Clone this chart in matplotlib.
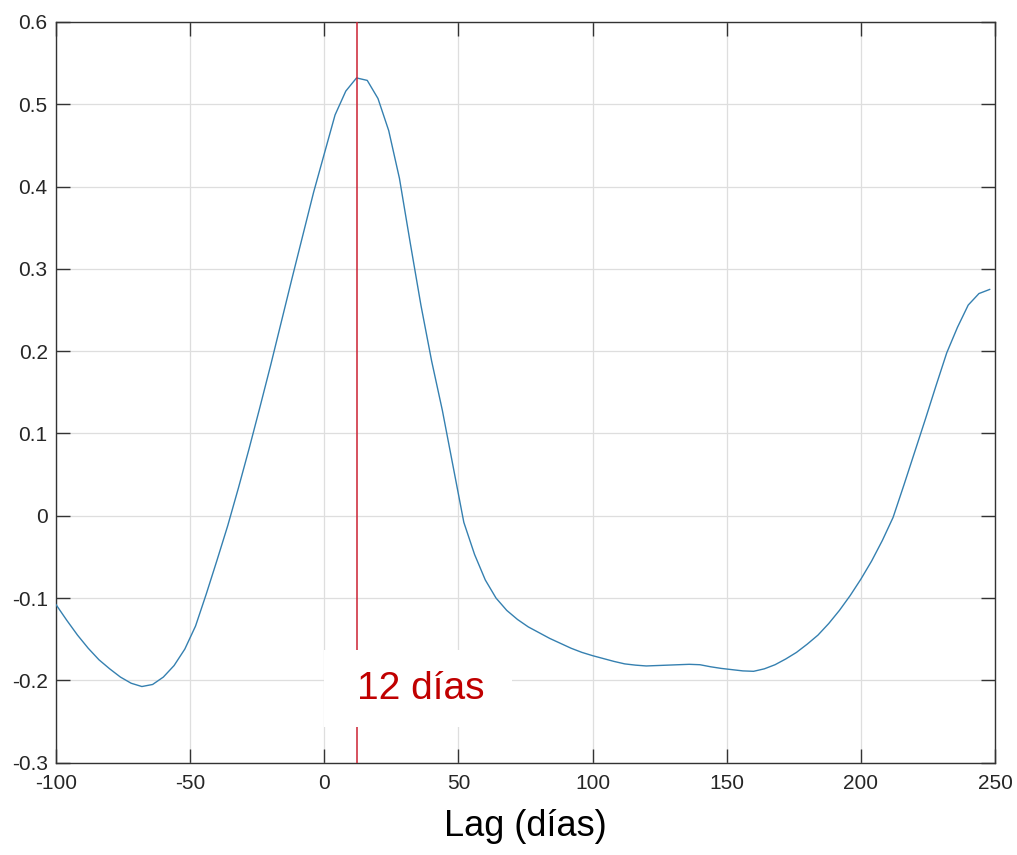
import numpy as np
import matplotlib
matplotlib.use("Agg")
import matplotlib.pyplot as plt
from matplotlib import font_manager
from matplotlib.patches import Rectangle

plt.rcParams['font.family'] = ['Liberation Sans', 'DejaVu Sans']
plt.rcParams['axes.unicode_minus'] = False

# cross-correlation vs lag (days), sampled every 4 days
lags = np.arange(-100, 252, 4)
corr = [
    -0.108, -0.127, -0.145, -0.161, -0.175, -0.186, -0.196, -0.2035,
    -0.2075, -0.205, -0.196, -0.182, -0.162, -0.134, -0.095, -0.054,
    -0.012, 0.034, 0.082, 0.132, 0.183, 0.236, 0.289, 0.341,
    0.393, 0.440, 0.487, 0.516, 0.532, 0.529, 0.507, 0.468,
    0.410, 0.332, 0.256, 0.188, 0.128, 0.060, -0.008, -0.047,
    -0.078, -0.100, -0.115, -0.126, -0.135, -0.142, -0.149, -0.155,
    -0.161, -0.166, -0.170, -0.1735, -0.177, -0.180, -0.1815, -0.1825,
    -0.182, -0.1815, -0.181, -0.1805, -0.181, -0.1835, -0.1855, -0.187,
    -0.1885, -0.189, -0.186, -0.181, -0.174, -0.166, -0.156, -0.145,
    -0.131, -0.115, -0.097, -0.077, -0.055, -0.030, -0.002, 0.037,
    0.077, 0.117, 0.158, 0.198, 0.229, 0.256, 0.270, 0.275,
]
best_lag = 12
xticks = [-100, -50, 0, 50, 100, 150, 200, 250]
yticks = [-0.3, -0.2, -0.1, 0, 0.1, 0.2, 0.3, 0.4, 0.5, 0.6]
ytick_labels = ['-0.3', '-0.2', '-0.1', '0', '0.1', '0.2', '0.3', '0.4', '0.5', '0.6']

# the big labels use a condensed face; use the narrow variant if it exists
try:
    font_manager.findfont('Liberation Sans Narrow', fallback_to_default=False)
    big_family, label_size, note_size = ['Liberation Sans Narrow'], 31, 33
except ValueError:
    big_family, label_size, note_size = ['Liberation Sans'], 26, 28

fig = plt.figure(figsize=(10.17, 8.55), dpi=100)
ax = fig.add_axes([0.0551, 0.108, 0.9233, 0.8663])

ax.plot(lags, corr, color='#3580b0', lw=1.0, zorder=3)
ax.axvline(best_lag, color='#cc2233', lw=1.1, zorder=4)

# white label box hiding grid and red line
ax.add_patch(Rectangle((0, -0.257), 70, 0.094, facecolor='white',
                       edgecolor='none', zorder=5))
ax.text(best_lag + 0.3, -0.211, '12 días', color='#c00000', fontsize=note_size,
        family=big_family, ha='left', va='center', zorder=6)

ax.set_xlim(-100, 250)
ax.set_ylim(-0.3, 0.6)
ax.set_xticks(xticks)
ax.set_xticklabels([str(t) for t in xticks])
ax.set_yticks(yticks)
ax.set_yticklabels(ytick_labels)

ax.grid(True, color='#dedede', lw=0.9, zorder=0)
ax.set_axisbelow(True)
ax.tick_params(direction='in', length=10, width=1, color='#333333',
               labelsize=15, labelcolor='#262626', top=True, right=True)
ax.tick_params(axis='x', pad=8)
ax.tick_params(axis='y', pad=6)
for s in ax.spines.values():
    s.set_color('#333333')
    s.set_linewidth(1.0)

ax.set_xlabel('Lag (días)', fontsize=label_size, family=big_family,
              color='black', labelpad=12)

fig.savefig('out.png', dpi=100)
